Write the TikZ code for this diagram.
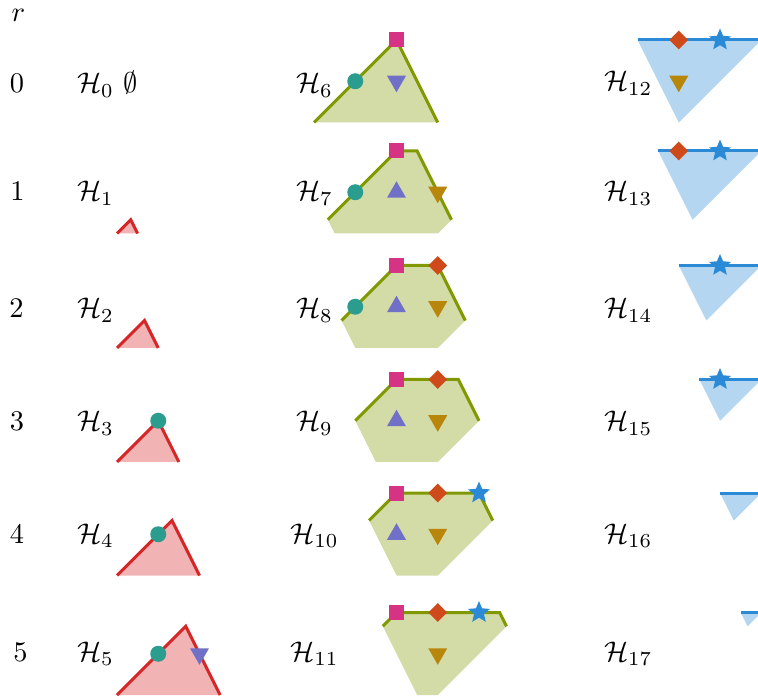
\RequirePackage{fix-cm}
\documentclass[tikz,border=0pt]{standalone}
\usepackage{graphicx}
\usetikzlibrary{shapes.geometric}
\definecolor{redc}{HTML}{D62728}
\definecolor{greenc}{HTML}{809900}
\definecolor{bluec}{HTML}{2B8AD6}
\definecolor{tealc}{HTML}{2A9D8F}
\definecolor{purc}{HTML}{7070C8}
\definecolor{magc}{HTML}{D63384}
\definecolor{oranc}{HTML}{CF4A1A}
\definecolor{goldc}{HTML}{B8860B}
\definecolor{starc}{HTML}{2B8AD6}
\newcommand{\bigtxt}[1]{\scalebox{2.84}{#1}}
\tikzset{
 lab/.style={inner sep=0pt, anchor=base west},
 labc/.style={inner sep=0pt, anchor=base},
 num/.style={inner sep=0pt, anchor=base},
 rfill/.style={fill=redc!35},
 rline/.style={draw=redc, line width=3pt},
 gfill/.style={fill=greenc!35},
 gline/.style={draw=greenc, line width=3pt},
 bfill/.style={fill=bluec!35},
 bline/.style={draw=bluec, line width=3pt},
 mcirc/.style={circle, fill=tealc, inner sep=0pt, minimum size=16pt},
 msq/.style={rectangle, fill=magc, inner sep=0pt, minimum size=15pt},
 mdia/.style={diamond, fill=oranc, inner sep=0pt, minimum size=19pt},
 mtri/.style={regular polygon, regular polygon sides=3, inner sep=0pt, minimum size=22pt},
 mpup/.style={mtri, fill=purc},
 mpdown/.style={mtri, fill=purc, shape border rotate=180},
 mgdown/.style={mtri, fill=goldc, shape border rotate=180},
 mstar/.style={star, star points=5, star point ratio=2.2, fill=starc, inner sep=0pt, minimum size=23pt},
 cell/.style 2 args={shift={(#1,#2)}, x=13.75pt, y=13.75pt},
}
\begin{document}
\begin{tikzpicture}[x=1pt, y=-1pt, font=\fontsize{10}{12}\selectfont]
\useasboundingbox (0,0) rectangle (758,700);
\clip (0,0) rectangle (758,700);

% row numbers
\node[num] (rr) at (18.5,22) {\bigtxt{$r$}};
\node[num] (n0) at (17,93) {\bigtxt{0}};
\node[num] (n1) at (17.5,201) {\bigtxt{1}};
\node[num] (n2) at (16.5,318) {\bigtxt{2}};
\node[num] (n3) at (17,431) {\bigtxt{3}};
\node[num] (n4) at (17,543) {\bigtxt{4}};
\node[num] (n5) at (20.5,661) {\bigtxt{5}};

% labels column 1
\node[lab] (h0) at (77,93) {\bigtxt{$\mathcal{H}_0$ $\emptyset$}};
\node[lab] (h1) at (77,201) {\bigtxt{$\mathcal{H}_1$}};
\node[lab] (h2) at (77,318) {\bigtxt{$\mathcal{H}_2$}};
\node[lab] (h3) at (77,431) {\bigtxt{$\mathcal{H}_3$}};
\node[lab] (h4) at (77,543) {\bigtxt{$\mathcal{H}_4$}};
\node[lab] (h5) at (77,661) {\bigtxt{$\mathcal{H}_5$}};
% labels column 2
\node[labc] (h6) at (314.5,93) {\bigtxt{$\mathcal{H}_6$}};
\node[labc] (h7) at (314.5,201) {\bigtxt{$\mathcal{H}_7$}};
\node[labc] (h8) at (314.5,318) {\bigtxt{$\mathcal{H}_8$}};
\node[labc] (h9) at (314.5,431) {\bigtxt{$\mathcal{H}_9$}};
\node[labc] (h10) at (314.5,543) {\bigtxt{$\mathcal{H}_{10}$}};
\node[labc] (h11) at (314.5,661) {\bigtxt{$\mathcal{H}_{11}$}};
% labels column 3
\node[lab] (h12) at (604,91) {\bigtxt{$\mathcal{H}_{12}$}};
\node[lab] (h13) at (604,201) {\bigtxt{$\mathcal{H}_{13}$}};
\node[lab] (h14) at (604,318) {\bigtxt{$\mathcal{H}_{14}$}};
\node[lab] (h15) at (604,431) {\bigtxt{$\mathcal{H}_{15}$}};
\node[lab] (h16) at (604,543) {\bigtxt{$\mathcal{H}_{16}$}};
\node[lab] (h17) at (604,661) {\bigtxt{$\mathcal{H}_{17}$}};

% ---------- red column ----------
\begin{scope}[cell={117}{233.5}]
 \fill[rfill] (0,0)--(1,1)--(1.5,0)--cycle;
 \draw[rline] (0,0)--(1,1)--(1.5,0);
\end{scope}
\begin{scope}[cell={117}{348}]
 \fill[rfill] (0,0)--(2,2)--(3,0)--cycle;
 \draw[rline] (0,0)--(2,2)--(3,0);
\end{scope}
\begin{scope}[cell={117}{462}]
 \fill[rfill] (0,0)--(3,3)--(4.5,0)--cycle;
 \draw[rline] (0,0)--(3,3)--(4.5,0);
 \node[mcirc] (c3) at (3,3) {};
\end{scope}
\begin{scope}[cell={117}{575.5}]
 \fill[rfill] (0,0)--(4,4)--(6,0)--cycle;
 \draw[rline] (0,0)--(4,4)--(6,0);
 \node[mcirc] (c4) at (3,3) {};
\end{scope}
\begin{scope}[cell={117}{695}]
 \fill[rfill] (0,0)--(5,5)--(7.5,0)--cycle;
 \draw[rline] (0,0)--(5,5)--(7.5,0);
 \node[mcirc] (c5) at (3,3) {};
 \node[mpdown] (p5) at (6,3) {};
\end{scope}

% ---------- green column ----------
\begin{scope}[cell={314}{122.5}]
 \fill[gfill] (0,0)--(6,6)--(9,0)--cycle;
 \draw[gline] (0,0)--(6,6)--(9,0);
 \node[mcirc] (c6) at (3,3) {};
 \node[mpdown] (p6) at (6,3) {};
 \node[msq] (s6) at (6,6) {};
\end{scope}
\begin{scope}[cell={314}{233.5}]
 \fill[gfill] (1,1)--(6,6)--(7.5,6)--(10,1)--(9,0)--(1.5,0)--cycle;
 \draw[gline] (1,1)--(6,6)--(7.5,6)--(10,1);
 \node[mcirc] (c7) at (3,3) {};
 \node[mpup] (p7) at (6,3) {};
 \node[mgdown] (g7) at (9,3) {};
 \node[msq] (s7) at (6,6) {};
\end{scope}
\begin{scope}[cell={314}{348}]
 \fill[gfill] (2,2)--(6,6)--(9,6)--(11,2)--(9,0)--(3,0)--cycle;
 \draw[gline] (2,2)--(6,6)--(9,6)--(11,2);
 \node[mcirc] (c8) at (3,3) {};
 \node[mpup] (p8) at (6,3) {};
 \node[mgdown] (g8) at (9,3) {};
 \node[msq] (s8) at (6,6) {};
 \node[mdia] (d8) at (9,6) {};
\end{scope}
\begin{scope}[cell={314}{462}]
 \fill[gfill] (3,3)--(6,6)--(10.5,6)--(12,3)--(9,0)--(4.5,0)--cycle;
 \draw[gline] (3,3)--(6,6)--(10.5,6)--(12,3);
 \node[mpup] (p9) at (6,3) {};
 \node[mgdown] (g9) at (9,3) {};
 \node[msq] (s9) at (6,6) {};
 \node[mdia] (d9) at (9,6) {};
\end{scope}
\begin{scope}[cell={314}{575.5}]
 \fill[gfill] (4,4)--(6,6)--(12,6)--(13,4)--(9,0)--(6,0)--cycle;
 \draw[gline] (4,4)--(6,6)--(12,6)--(13,4);
 \node[mpup] (p10) at (6,3) {};
 \node[mgdown] (g10) at (9,3) {};
 \node[msq] (s10) at (6,6) {};
 \node[mdia] (d10) at (9,6) {};
 \node[mstar] (t10) at (12,6) {};
\end{scope}
\begin{scope}[cell={314}{695}]
 \fill[gfill] (5,5)--(6,6)--(13.5,6)--(14,5)--(9,0)--(7.5,0)--cycle;
 \draw[gline] (5,5)--(6,6)--(13.5,6)--(14,5);
 \node[mgdown] (g11) at (9,3) {};
 \node[msq] (s11) at (6,6) {};
 \node[mdia] (d11) at (9,6) {};
 \node[mstar] (t11) at (12,6) {};
\end{scope}

% ---------- blue column ----------
\begin{scope}[cell={555}{122.5}]
 \fill[bfill] (6,6)--(15,6)--(9,0)--cycle;
 \draw[bline] (6,6)--(15,6);
 \node[mgdown] (g12) at (9,3) {};
 \node[mdia] (d12) at (9,6) {};
 \node[mstar] (t12) at (12,6) {};
\end{scope}
\begin{scope}[cell={555}{233.5}]
 \fill[bfill] (7.5,6)--(15,6)--(10,1)--cycle;
 \draw[bline] (7.5,6)--(15,6);
 \node[mdia] (d13) at (9,6) {};
 \node[mstar] (t13) at (12,6) {};
\end{scope}
\begin{scope}[cell={555}{348}]
 \fill[bfill] (9,6)--(15,6)--(11,2)--cycle;
 \draw[bline] (9,6)--(15,6);
 \node[mstar] (t14) at (12,6) {};
\end{scope}
\begin{scope}[cell={555}{462}]
 \fill[bfill] (10.5,6)--(15,6)--(12,3)--cycle;
 \draw[bline] (10.5,6)--(15,6);
 \node[mstar] (t15) at (12,6) {};
\end{scope}
\begin{scope}[cell={555}{575.5}]
 \fill[bfill] (12,6)--(15,6)--(13,4)--cycle;
 \draw[bline] (12,6)--(15,6);
\end{scope}
\begin{scope}[cell={555}{695}]
 \fill[bfill] (13.5,6)--(15,6)--(14,5)--cycle;
 \draw[bline] (13.5,6)--(15,6);
\end{scope}
\end{tikzpicture}
\end{document}
